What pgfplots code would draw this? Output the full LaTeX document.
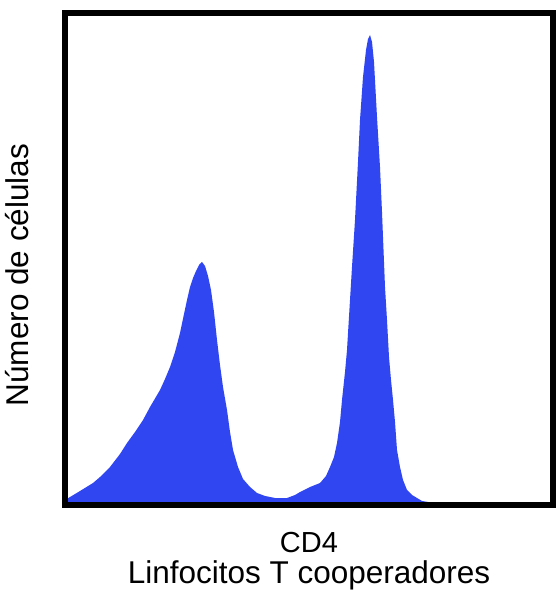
\documentclass[border=0pt]{standalone}
\usepackage{pgfplots}
\pgfplotsset{compat=1.18}
\usetikzlibrary{calc}
\usepackage{fontspec}
\setmainfont{Liberation Sans}
\definecolor{histblue}{RGB}{48,70,240}
\begin{document}
\begin{tikzpicture}
\begin{axis}[
  scale only axis,
  width=488pt, height=492pt,
  xmin=65, xmax=553, ymin=-3, ymax=489,
  xtick=\empty, ytick=\empty,
  axis on top,
  axis line style={line width=6.5pt, line join=miter},
  label style={font=\fontsize{31.5}{31}\selectfont},
  xlabel={{\fontsize{29}{31}\selectfont CD4}\\Linfocitos T cooperadores},
  xlabel style={align=center, at={(axis description cs:0.5,-0.048)}, anchor=north},
  ylabel={Número de células},
  ylabel style={at={(axis description cs:-0.0738,0.4675)}, anchor=base, rotate=0},
]
\addplot[fill=histblue, draw=none] coordinates {
(65,-3) (65,2) (70,5) (80,11) (93,19) (100,25) (110,35) (120,48) (127,59)
(135,70) (143,82) (150,95) (160,112) (165,123) (170,135) (175,150) (180,169)
(184,188) (187,202) (190,215) (193,224) (196,231) (199,237) (202,240)
(205,236) (208,226) (211,212) (214,190) (217,162) (220,137) (223,115)
(227,92) (230,70) (233,52) (238,35) (243,23) (250,15) (257,9) (265,6)
(275,4) (287,4) (295,7) (300,10) (310,15) (320,19) (326,26) (330,35)
(334,45) (337,59) (340,80) (342,102) (345,130) (347,152) (350,202)
(352,235) (355,282) (358,340) (360,382) (363,425) (366,452) (368,463)
(370,467) (372,460) (374,440) (377,385) (380,335) (382,290) (385,215)
(387,182) (389,145) (391,122) (393,102) (395,80) (397,52) (400,35)
(403,22) (407,12) (412,7) (417,4) (422,1) (428,0) (553,0) (553,-3)
} \closedcycle;
\coordinate (BL) at (rel axis cs:0,0);
\coordinate (TR) at (rel axis cs:1,1);
\end{axis}
\pgfresetboundingbox
\path ($(BL)+(-65pt,-89pt)$) rectangle ($(TR)+(4pt,13pt)$);
\end{tikzpicture}
\end{document}
